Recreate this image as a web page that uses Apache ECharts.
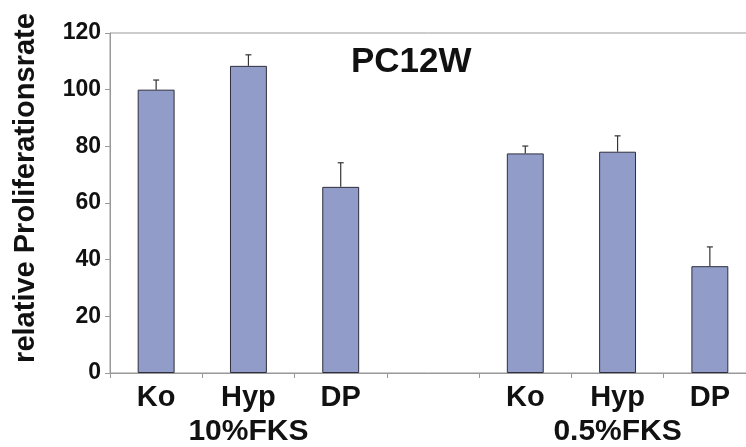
<!DOCTYPE html>
<html><head><meta charset="utf-8">
<script src="https://cdn.jsdelivr.net/npm/echarts@6/dist/echarts.min.js"></script>
<style>html,body{margin:0;padding:0;background:#fff}#c{width:746px;height:447px}</style>
</head><body><div id="c"></div>
<script>
const categories = ['Ko', 'Hyp', 'DP', '', 'Ko', 'Hyp', 'DP'];
const groupLabels = ['', '10%FKS', '', '', '', '0.5%FKS', ''];
const values = [100, 108.4, 65.7, null, 77.5, 78.1, 37.7];
const errors = [3.4, 3.9, 8.5, null, 2.6, 5.6, 6.8];
const yTicks = [0, 20, 40, 60, 80, 100, 120];
const titleText = 'PC12W';
const yName = 'relative Proliferationsrate';

const FONT = '"Liberation Sans", Arial, sans-serif';
const chart = echarts.init(document.getElementById('c'), null, {renderer: 'canvas'});
const errData = values.map((v, i) => v == null ? null : [i, v, v + errors[i]]).filter(d => d);

chart.setOption({
  animation: false,
  backgroundColor: '#fff',
  title: {
    text: titleText, left: 346, top: 40,
    textStyle: {fontFamily: FONT, fontWeight: 'bold', fontSize: 35, color: '#111'}
  },
  grid: {left: 110, top: 33, width: 646, bottom: 74, outerBoundsMode: 'none', containLabel: false,
    show: true, borderColor: '#999', borderWidth: 1, backgroundColor: 'transparent'},
  xAxis: [{
    type: 'category', data: categories, position: 'bottom',
    axisLine: {lineStyle: {color: '#999', width: 1}},
    axisTick: {show: true, length: 5, lineStyle: {color: '#999'}},
    axisLabel: {margin: 10, fontFamily: FONT, fontWeight: 'bold', fontSize: 29, color: '#111'}
  }, {
    type: 'category', data: groupLabels, position: 'bottom',
    axisLine: {show: false}, axisTick: {show: false},
    axisLabel: {margin: 44, interval: 0, fontFamily: FONT, fontWeight: 'bold', fontSize: 30, color: '#111'}
  }],
  yAxis: {
    type: 'value', min: 0, max: 120, interval: 20,
    name: yName, nameLocation: 'middle', nameGap: 70,
    nameTextStyle: {fontFamily: FONT, fontWeight: 'bold', fontSize: 29, color: '#111', padding: [0, 0, 0, 30]},
    axisLine: {show: true, lineStyle: {color: '#999', width: 1}},
    axisTick: {show: true, length: 5, lineStyle: {color: '#999'}},
    splitLine: {show: false},
    axisLabel: {margin: 9, fontFamily: FONT, fontWeight: 'bold', fontSize: 23, color: '#111',
      formatter: v => yTicks.includes(v) ? String(v) : ''}
  },
  series: [{
    type: 'bar', data: values, barWidth: '40%', xAxisIndex: 0,
    itemStyle: {color: '#919cc9', borderColor: '#2e2e3c', borderWidth: 1}
  }, {
    type: 'custom', xAxisIndex: 0, data: errData, z: 3,
    renderItem: (params, api) => {
      const x = api.value(0);
      const p0 = api.coord([x, api.value(1)]);
      const p1 = api.coord([x, api.value(2)]);
      const hw = 3;
      const st = {stroke: '#333', lineWidth: 1.2};
      return {type: 'group', children: [
        {type: 'line', shape: {x1: p0[0], y1: p0[1], x2: p1[0], y2: p1[1]}, style: st},
        {type: 'line', shape: {x1: p1[0] - hw, y1: p1[1], x2: p1[0] + hw, y2: p1[1]}, style: st}
      ]};
    }
  }]
});
</script></body></html>
